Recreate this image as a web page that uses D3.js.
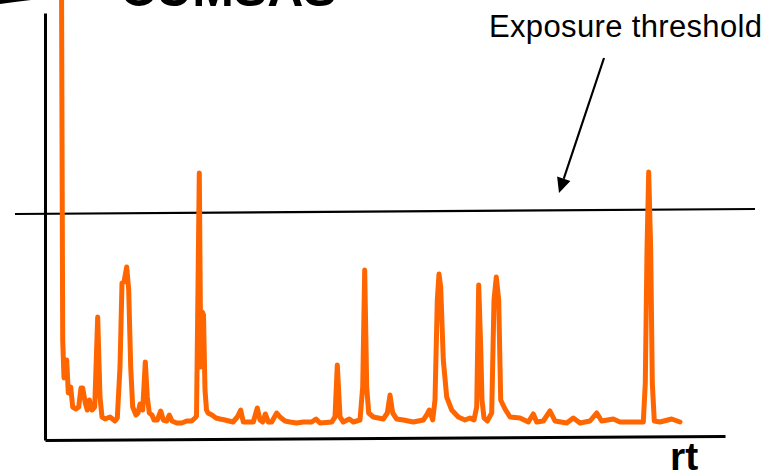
<!DOCTYPE html>
<html>
<head>
<meta charset="utf-8">
<script src="https://cdn.jsdelivr.net/npm/d3@7"></script>
<style>
  html, body { margin: 0; padding: 0; background: #fff; }
  svg { display: block; font-family: "Liberation Sans", Arial, sans-serif; }
</style>
</head>
<body>
<svg id="chart"></svg>
<script>
// retention time (arbitrary units) and signal intensity
const rt = [
  16.5, 17.7, 19, 21.7, 23.3, 25.7, 27.7, 31, 33.7, 36, 37.7, 40.3, 42.3, 44.3, 47, 49.7,
  52.7, 55, 57, 60, 65, 70, 72.3, 75, 77, 79, 81.7, 83.7, 85.7, 87.7, 91, 93, 95, 97.7,
  100.3, 102.3, 104.3, 107, 109, 112.3, 115.7, 118.3, 121.7, 124.3, 127, 131.7, 136.7,
  141.7, 146.7, 150, 151.5, 152.5, 154.3, 155.3, 155.8, 157.3, 158.5, 160, 161.5, 163,
  167, 171, 175, 180, 188, 192.3, 195.7, 198.3, 205, 208.3, 212.3, 215, 217.7, 220.3,
  223.3, 226.7, 231.7, 235, 240, 245, 251.7, 258.3, 266.7, 271, 275, 286.7, 290, 292.3,
  295, 298.3, 304.3, 308.3, 315, 317.7, 319.7, 321.7, 323.7, 328.3, 338.3, 342.3, 345,
  347.7, 351.7, 358.3, 368.3, 378.3, 381.7, 384.3, 387.7, 390, 392.3, 394, 395.7, 398.3,
  401.7, 406.7, 413.3, 420, 425, 429, 431.7, 433.7, 435.7, 437, 439, 442.3, 446.7, 449,
  451.3, 453.7, 455.7, 460, 465, 475, 483.3, 488.3, 491.7, 498.3, 505, 510, 521.7, 528.3,
  535, 545, 551.7, 556.7, 568.3, 575, 588.3, 598.3, 600.3, 602, 603.7, 605.7, 607.3,
  609.3, 615, 626.7, 635
];
const intensity = [
  460, 100, 62, 80, 47, 53, 33, 31, 33, 52, 52, 37, 30, 40, 30, 33,
  123, 43, 23, 21, 23, 19, 22, 73, 157, 158, 173, 150, 73, 33, 25, 27, 36, 30,
  78, 43, 27, 25, 20, 20, 29, 20, 19, 25, 19, 17, 17,
  19, 19, 22, 24, 110, 267, 140, 73, 128, 125, 50, 30, 27,
  25, 22, 21, 20, 18, 23, 30, 18, 18, 18, 32, 20, 18, 26,
  18, 18, 27, 23, 19, 18, 17, 18, 18, 21, 17, 18, 23, 75,
  23, 18, 21, 18, 20, 53, 170, 53, 27, 23, 21, 27, 45,
  27, 21, 20, 18, 20, 25, 30, 20, 40, 140, 166, 153, 80,
  43, 30, 23, 20, 22, 20, 33, 155, 93, 40, 22, 19, 27, 140,
  163, 140, 40, 31, 23, 22, 18, 26, 18, 19, 29, 19, 17, 22,
  17, 19, 27, 19, 21, 18, 18, 18, 57, 190, 268, 190, 57,
  19, 18, 21, 18
];
// exposure threshold, drawn from end to end (slightly sloped as in the original)
const thresholdRt = [-30, 710];
const thresholdLevel = [226, 231];

const width = 767, height = 473;
const svg = d3.select("#chart").attr("width", width).attr("height", height);

const x = d3.scaleLinear().domain([0, 680]).range([45, 725]);
const y = d3.scaleLinear().domain([0, 427]).range([440, 13]);

// title, cut off by the top edge
svg.append("text")
  .attr("x", 120).attr("y", 6)
  .attr("font-size", 50).attr("font-weight", "bold")
  .text("CUMSAS");

svg.append("path")
  .attr("d", "M0,0 L31,0 Q14,2 0,4 Z")
  .attr("fill", "#000");

// axes
svg.append("g")
  .attr("transform", `translate(${x(0)},0)`)
  .call(d3.axisLeft(y).ticks(0).tickSizeOuter(0))
  .call(g => g.select(".domain").attr("stroke", "#000").attr("stroke-width", 3));

svg.append("g")
  .attr("transform", `rotate(-0.34, ${x(0)}, ${y(0)}) translate(0,${y(0)})`)
  .call(d3.axisBottom(x).ticks(0).tickSizeOuter(0))
  .call(g => g.select(".domain").attr("stroke", "#000").attr("stroke-width", 3));

// threshold line
svg.append("line")
  .attr("x1", x(thresholdRt[0])).attr("y1", y(thresholdLevel[0]))
  .attr("x2", x(thresholdRt[1])).attr("y2", y(thresholdLevel[1]))
  .attr("stroke", "#000").attr("stroke-width", 2.2);

// signal trace
const points = rt.map((r, i) => [r, intensity[i]]);
const line = d3.line().x(d => x(d[0])).y(d => y(d[1]));
svg.append("path")
  .datum(points)
  .attr("d", line)
  .attr("fill", "none")
  .attr("stroke", "#ff6600")
  .attr("stroke-width", 5)
  .attr("stroke-linejoin", "round")
  .attr("stroke-linecap", "round");

// annotation
svg.append("text")
  .attr("x", 489).attr("y", 37)
  .attr("font-size", 31)
  .attr("textLength", 273).attr("lengthAdjust", "spacing")
  .text("Exposure threshold");

const a0 = [x(559), y(382)], a1 = [x(514), y(247)];
const ang = Math.atan2(a1[1] - a0[1], a1[0] - a0[0]);
const headLen = 15, headW = 7;
const base = [a1[0] - headLen * Math.cos(ang), a1[1] - headLen * Math.sin(ang)];
svg.append("line")
  .attr("x1", a0[0]).attr("y1", a0[1])
  .attr("x2", base[0]).attr("y2", base[1])
  .attr("stroke", "#000").attr("stroke-width", 2.2);
svg.append("path")
  .attr("d", d3.line()([
    a1,
    [base[0] + headW * Math.sin(ang), base[1] - headW * Math.cos(ang)],
    [base[0] - headW * Math.sin(ang), base[1] + headW * Math.cos(ang)]
  ]) + "Z")
  .attr("fill", "#000");

svg.append("text")
  .attr("x", 670).attr("y", 470)
  .attr("font-size", 39).attr("font-weight", "bold")
  .text("rt");
</script>
</body>
</html>
